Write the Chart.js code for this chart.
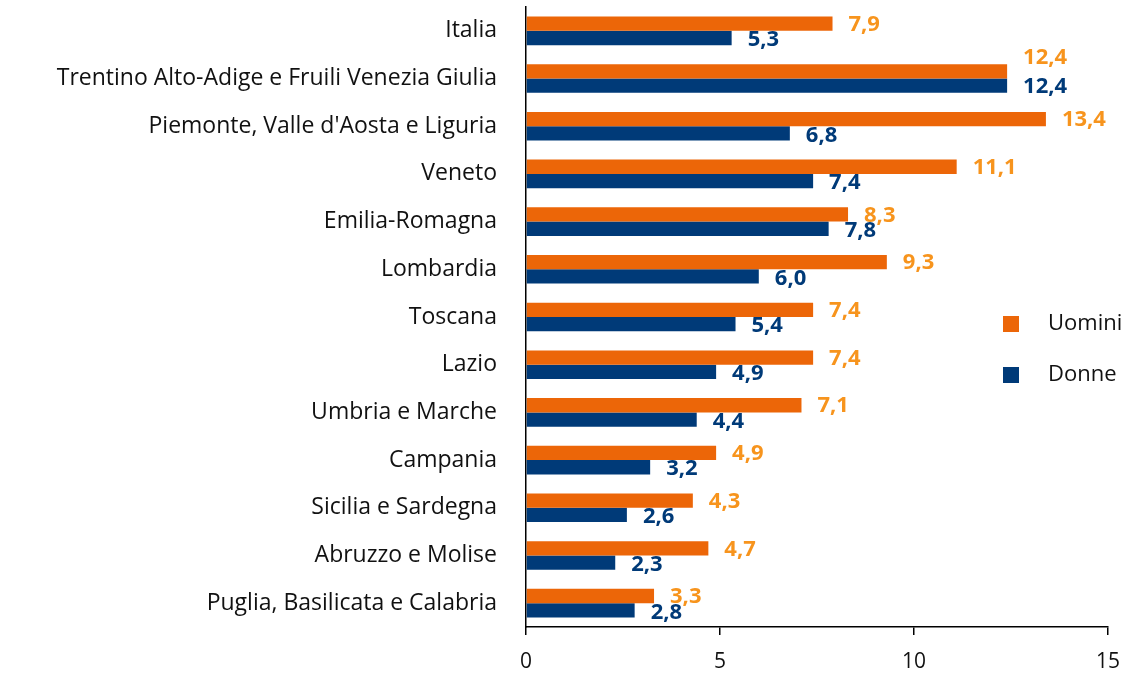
<!DOCTYPE html>
<html>
<head>
<meta charset="utf-8">
<script src="https://cdn.jsdelivr.net/npm/chart.js@4"></script>
<style>
  html, body { margin: 0; padding: 0; background: #fff; }
</style>
</head>
<body>
<canvas id="chart" width="1141" height="674"></canvas>
<script>
const regions = [
  'Italia',
  'Trentino Alto-Adige e Fruili Venezia Giulia',
  "Piemonte, Valle d'Aosta e Liguria",
  'Veneto',
  'Emilia-Romagna',
  'Lombardia',
  'Toscana',
  'Lazio',
  'Umbria e Marche',
  'Campania',
  'Sicilia e Sardegna',
  'Abruzzo e Molise',
  'Puglia, Basilicata e Calabria'
];
const uomini = [7.9, 12.4, 13.4, 11.1, 8.3, 9.3, 7.4, 7.4, 7.1, 4.9, 4.3, 4.7, 3.3];
const donne = [5.3, 12.4, 6.8, 7.4, 7.8, 6.0, 5.4, 4.9, 4.4, 3.2, 2.6, 2.3, 2.8];
const xTicks = [0, 5, 10, 15];

const FONT = '"Open Sans", "Noto Sans", sans-serif';
const ORANGE = '#EC6608';
const BLUE = '#003A78';

// value labels at the end of each bar, italian decimal comma
const barLabels = {
  id: 'barLabels',
  afterDatasetsDraw(chart) {
    const ctx = chart.ctx;
    ctx.save();
    ctx.font = 'bold 22px ' + FONT;
    ctx.textAlign = 'left';
    ctx.textBaseline = 'middle';
    chart.data.datasets.forEach((ds, i) => {
      const meta = chart.getDatasetMeta(i);
      ctx.fillStyle = ds.labelColor;
      meta.data.forEach((bar, j) => {
        const txt = ds.data[j].toFixed(1).replace('.', ',');
        let dy = i === 0 ? 1 : 2;
        // Trentino: the orange label sits above its bar in the original
        if (j === 1) dy = i === 0 ? -14 : 1;
        ctx.fillText(txt, bar.x + 16, bar.y + dy);
      });
    });
    ctx.restore();
  }
};

// legend drawn by hand on the right side
const sideLegend = {
  id: 'sideLegend',
  afterDraw(chart) {
    const ctx = chart.ctx;
    ctx.save();
    ctx.font = '22px ' + FONT;
    ctx.textBaseline = 'middle';
    ctx.textAlign = 'left';
    chart.data.datasets.forEach((ds, i) => {
      const y = 324 + i * 51;
      ctx.fillStyle = ds.backgroundColor;
      ctx.fillRect(1003, y - 8, 16, 16);
      ctx.fillStyle = '#111';
      ctx.fillText(ds.label, 1048, y);
    });
    ctx.restore();
  }
};

new Chart(document.getElementById('chart'), {
  type: 'bar',
  data: {
    labels: regions,
    datasets: [
      { label: 'Uomini', data: uomini, backgroundColor: ORANGE, labelColor: '#F7941D',
        categoryPercentage: 0.6, barPercentage: 1.0 },
      { label: 'Donne', data: donne, backgroundColor: BLUE, labelColor: BLUE,
        categoryPercentage: 0.6, barPercentage: 1.0 }
    ]
  },
  options: {
    indexAxis: 'y',
    responsive: false,
    animation: false,
    layout: { padding: { top: 7, right: 33, bottom: 0, left: 0 } },
    scales: {
      x: {
        min: 0,
        max: 15,
        afterBuildTicks: (axis) => { axis.ticks = xTicks.map(v => ({ value: v })); },
        afterFit: (axis) => { axis.height = 47; },
        grid: { display: true, drawOnChartArea: false, drawTicks: true, tickLength: 8, color: '#000', lineWidth: 1.5 },
        border: { display: true, color: '#000', width: 1.5 },
        ticks: { color: '#111', font: { family: FONT, size: 21 }, padding: 14 }
      },
      y: {
        afterFit: (axis) => { axis.width = 526; axis.paddingTop = 0; axis.paddingBottom = 0; },
        grid: { display: true, drawOnChartArea: false, drawTicks: true, tickLength: 29, tickColor: 'rgba(0,0,0,0)' },
        border: { display: true, color: '#000', width: 1.5 },
        ticks: { color: '#111', font: { family: FONT, size: 23 }, padding: 0 }
      }
    },
    plugins: {
      legend: { display: false },
      tooltip: { enabled: false }
    }
  },
  plugins: [barLabels, sideLegend]
});
</script>
</body>
</html>
